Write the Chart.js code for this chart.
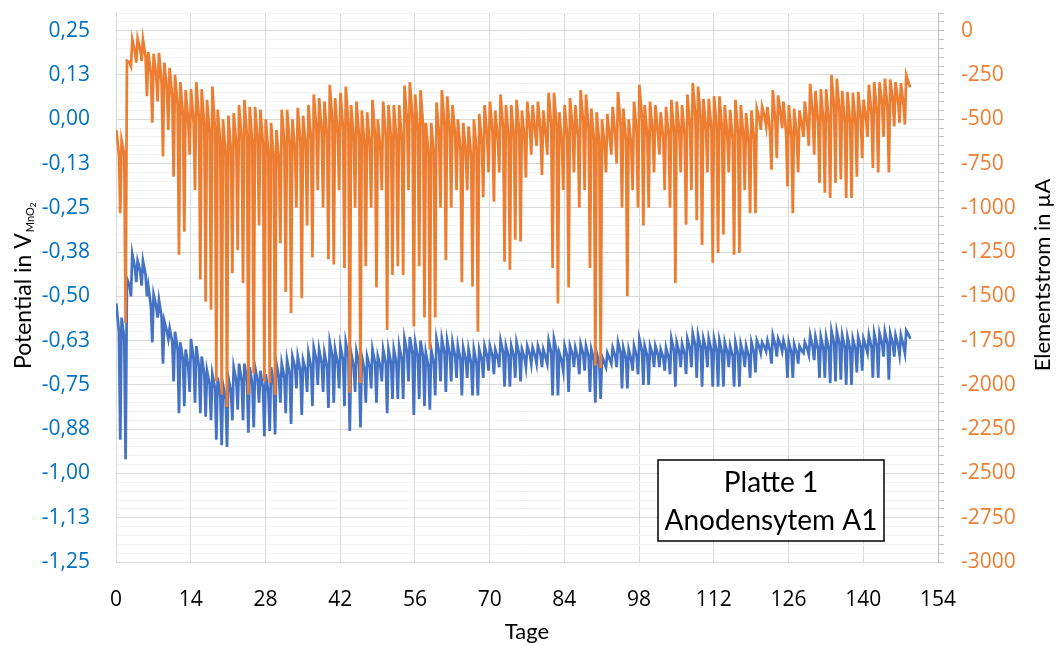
<!DOCTYPE html>
<html><head><meta charset="utf-8">
<script src="https://cdn.jsdelivr.net/npm/chart.js@4/dist/chart.umd.min.js"></script>
<style>html,body{margin:0;padding:0;background:#fff}#w{width:1056px;height:646px}</style>
</head><body><div id="w"><canvas id="c" width="1056" height="646"></canvas></div>
<script>
// Elementstrom (µA) per day 0..148: daily maximum, level before the daily drop, daily minimum
const stromMax = [-560,-620,-170,-50,-45,-50,-120,-130,-125,-180,
-210,-250,-290,-335,-330,-290,-330,-390,-315,-445,
-500,-480,-465,-420,-390,-430,-430,-446,-500,-520,
-560,-446,-446,-500,-435,-480,-420,-360,-380,-400,
-305,-380,-350,-315,-420,-400,-450,-460,-390,-500,
-400,-420,-420,-420,-310,-290,-360,-335,-520,-520,
-405,-335,-370,-420,-500,-520,-540,-500,-470,-420,
-400,-450,-360,-420,-420,-390,-450,-400,-420,-400,
-450,-350,-350,-460,-420,-380,-420,-335,-360,-440,
-460,-500,-470,-430,-345,-440,-500,-400,-305,-420,
-400,-420,-460,-430,-390,-400,-420,-360,-295,-315,
-385,-385,-370,-370,-420,-446,-390,-420,-465,-450,
-440,-430,-430,-335,-365,-400,-420,-440,-450,-400,
-300,-340,-330,-330,-250,-270,-340,-345,-350,-345,
-390,-305,-290,-290,-270,-275,-290,-295,-250];
const stromVor = [-700,-700,-180,-120,-110,-150,-250,-260,-300,-330,
-380,-420,-480,-520,-520,-500,-540,-580,-560,-640,
-700,-680,-650,-620,-600,-640,-620,-650,-700,-720,
-740,-650,-640,-680,-630,-660,-620,-560,-580,-600,
-520,-580,-560,-540,-620,-600,-640,-650,-600,-680,
-600,-620,-620,-620,-520,-500,-560,-540,-700,-700,
-600,-540,-570,-600,-680,-700,-720,-680,-640,-600,
-580,-620,-560,-600,-600,-580,-620,-560,-580,-580,
-600,-540,-540,-640,-600,-560,-600,-520,-560,-620,
-640,-660,-620,-600,-540,-620,-660,-580,-500,-600,
-580,-580,-620,-600,-580,-580,-600,-540,-480,-500,
-560,-560,-550,-560,-600,-620,-580,-600,-640,-620,
-500,-490,-580,-520,-480,-580,-600,-600,-540,-540,
-480,-520,-520,-520,-440,-460,-520,-530,-530,-500,
-500,-480,-470,-420,-450,-400,-410,-420,-300];
const stromMin = [-1030,-1650,-200,-180,-170,-370,-520,-400,-710,-560,
-825,-1265,-1135,-700,-900,-1405,-1530,-1575,-1980,-2055,
-2125,-1370,-1240,-1425,-2055,-1935,-1100,-1980,-1990,-2055,
-1200,-1475,-1595,-1000,-1510,-1100,-1280,-900,-1000,-1290,
-1320,-900,-1340,-2045,-1000,-1990,-1330,-1000,-1450,-900,
-1690,-1380,-1330,-1380,-900,-1670,-1330,-1620,-1800,-1620,
-1000,-1295,-1000,-900,-1420,-900,-1445,-1700,-940,-800,
-965,-800,-1305,-1350,-1180,-1190,-830,-700,-650,-815,
-700,-1340,-1540,-900,-1450,-800,-1000,-900,-1340,-1890,
-1905,-800,-700,-750,-1000,-1500,-900,-1000,-1100,-1000,
-800,-700,-900,-1000,-1425,-800,-1095,-900,-1070,-1210,
-800,-1310,-1255,-1150,-800,-1265,-1255,-900,-1030,-1030,
-560,-540,-785,-720,-550,-880,-1030,-800,-600,-650,
-700,-860,-915,-945,-860,-840,-945,-945,-825,-720,
-600,-775,-800,-600,-800,-540,-520,-530,-320];
// Potential (V vs MnO2) per day 0..148: daily maximum, level before the daily drop, daily minimum
const potMax = [-0.52,-0.56,-0.45,-0.38,-0.40,-0.40,-0.47,-0.495,-0.51,-0.57,
-0.59,-0.60,-0.63,-0.65,-0.62,-0.64,-0.67,-0.71,-0.72,-0.73,
-0.75,-0.73,-0.70,-0.69,-0.69,-0.70,-0.70,-0.71,-0.72,-0.70,
-0.69,-0.69,-0.68,-0.67,-0.67,-0.68,-0.66,-0.645,-0.65,-0.66,
-0.63,-0.65,-0.64,-0.63,-0.66,-0.655,-0.67,-0.67,-0.65,-0.67,
-0.65,-0.65,-0.65,-0.64,-0.62,-0.615,-0.63,-0.625,-0.66,-0.65,
-0.62,-0.62,-0.625,-0.63,-0.64,-0.645,-0.65,-0.65,-0.65,-0.64,
-0.64,-0.65,-0.625,-0.64,-0.64,-0.63,-0.65,-0.64,-0.645,-0.64,
-0.65,-0.625,-0.62,-0.66,-0.64,-0.64,-0.645,-0.635,-0.64,-0.65,
-0.66,-0.67,-0.66,-0.645,-0.63,-0.645,-0.65,-0.64,-0.62,-0.64,
-0.64,-0.64,-0.65,-0.645,-0.62,-0.63,-0.635,-0.62,-0.605,-0.61,
-0.62,-0.62,-0.62,-0.625,-0.63,-0.64,-0.63,-0.635,-0.64,-0.63,
-0.625,-0.63,-0.625,-0.61,-0.62,-0.625,-0.63,-0.635,-0.64,-0.63,
-0.61,-0.615,-0.615,-0.615,-0.598,-0.60,-0.61,-0.615,-0.62,-0.615,
-0.62,-0.61,-0.605,-0.605,-0.60,-0.605,-0.61,-0.61,-0.597];
const potVor = [-0.60,-0.62,-0.47,-0.42,-0.43,-0.44,-0.53,-0.53,-0.56,-0.60,
-0.63,-0.65,-0.68,-0.70,-0.68,-0.70,-0.72,-0.75,-0.76,-0.78,
-0.79,-0.77,-0.74,-0.74,-0.74,-0.75,-0.74,-0.76,-0.77,-0.75,
-0.73,-0.73,-0.72,-0.70,-0.71,-0.71,-0.70,-0.68,-0.69,-0.70,
-0.67,-0.69,-0.68,-0.67,-0.70,-0.69,-0.71,-0.70,-0.69,-0.70,
-0.69,-0.69,-0.69,-0.68,-0.66,-0.66,-0.67,-0.67,-0.70,-0.69,
-0.66,-0.66,-0.665,-0.67,-0.68,-0.68,-0.69,-0.69,-0.68,-0.67,
-0.67,-0.675,-0.66,-0.67,-0.67,-0.665,-0.675,-0.665,-0.67,-0.665,
-0.675,-0.66,-0.655,-0.685,-0.67,-0.665,-0.675,-0.665,-0.67,-0.68,
-0.69,-0.69,-0.68,-0.67,-0.66,-0.675,-0.68,-0.67,-0.655,-0.67,
-0.665,-0.665,-0.675,-0.675,-0.655,-0.66,-0.665,-0.65,-0.64,-0.645,
-0.65,-0.655,-0.655,-0.66,-0.66,-0.67,-0.665,-0.665,-0.67,-0.66,
-0.645,-0.645,-0.655,-0.64,-0.64,-0.655,-0.66,-0.66,-0.655,-0.65,
-0.645,-0.65,-0.65,-0.65,-0.635,-0.635,-0.645,-0.65,-0.65,-0.645,
-0.645,-0.645,-0.64,-0.635,-0.635,-0.635,-0.64,-0.64,-0.61];
const potMin = [-0.905,-0.96,-0.50,-0.46,-0.47,-0.50,-0.63,-0.56,-0.69,-0.62,
-0.74,-0.83,-0.81,-0.77,-0.80,-0.83,-0.84,-0.85,-0.905,-0.92,
-0.925,-0.85,-0.82,-0.85,-0.885,-0.87,-0.80,-0.895,-0.88,-0.89,
-0.80,-0.83,-0.86,-0.76,-0.835,-0.77,-0.81,-0.75,-0.77,-0.815,
-0.80,-0.76,-0.81,-0.88,-0.77,-0.87,-0.80,-0.76,-0.80,-0.74,
-0.83,-0.79,-0.79,-0.79,-0.74,-0.835,-0.79,-0.81,-0.82,-0.78,
-0.74,-0.77,-0.74,-0.73,-0.78,-0.73,-0.78,-0.78,-0.73,-0.71,
-0.72,-0.70,-0.755,-0.755,-0.73,-0.74,-0.70,-0.69,-0.69,-0.70,
-0.69,-0.78,-0.78,-0.71,-0.77,-0.70,-0.72,-0.71,-0.77,-0.80,
-0.79,-0.70,-0.69,-0.70,-0.76,-0.76,-0.71,-0.72,-0.75,-0.75,
-0.70,-0.70,-0.71,-0.72,-0.755,-0.70,-0.72,-0.70,-0.73,-0.755,
-0.70,-0.755,-0.755,-0.755,-0.70,-0.755,-0.755,-0.70,-0.73,-0.715,
-0.66,-0.655,-0.69,-0.67,-0.655,-0.73,-0.73,-0.69,-0.66,-0.665,
-0.68,-0.73,-0.73,-0.745,-0.74,-0.735,-0.75,-0.75,-0.715,-0.71,
-0.66,-0.73,-0.73,-0.67,-0.735,-0.67,-0.665,-0.66,-0.62];

const potLabels = ['-1,25','-1,13','-1,00','-0,88','-0,75','-0,63','-0,50','-0,38','-0,25','-0,13','0,00','0,13','0,25'];
const stromLabels = ['-3000','-2750','-2500','-2250','-2000','-1750','-1500','-1250','-1000','-750','-500','-250','0'];
const titelX = 'Tage';
const titelLinks = 'Potential in V';
const titelLinksIndex = 'MnO';
const titelLinksIndex2 = '2';
const titelRechts = 'Elementstrom in µA';
const boxZeilen = ['Platte 1', 'Anodensytem A1'];

// three samples per day: maximum, level before the drop, minimum
function punkte(hoch, vor, tief) {
  const out = [];
  for (let d = 0; d < hoch.length; d++) {
    out.push({x: d + 0.05, y: hoch[d]});
    out.push({x: d + 0.55, y: vor[d]});
    out.push({x: d + 0.8, y: tief[d]});
  }
  return out;
}
const nMinor = 62;
function gridTicks(minV, step) {
  const t = [];
  for (let k = 0; k <= nMinor; k++) t.push({value: (minV * 1000 + step * 1000 * k) / 1000});
  return t;
}
function noPad(s) { s.paddingTop = 0; s.paddingBottom = 0; s.paddingLeft = 0; s.paddingRight = 0; }

const tickFont = {family: 'Open Sans', size: 21};

const overlay = {
  id: 'overlay',
  afterDraw(chart) {
    const ctx = chart.ctx;
    ctx.save();
    ctx.fillStyle = '#000';
    ctx.font = '22px Lato';
    ctx.textAlign = 'center';
    ctx.textBaseline = 'middle';
    ctx.fillText(titelX, 527, 632);
    ctx.save();
    ctx.translate(31, 369);
    ctx.rotate(-Math.PI / 2);
    ctx.textAlign = 'left';
    ctx.textBaseline = 'alphabetic';
    ctx.font = '23px Lato';
    ctx.fillText(titelLinks, 0, 0);
    const w = ctx.measureText(titelLinks).width;
    ctx.font = '11px Lato';
    ctx.fillText(titelLinksIndex, w + 1, 3);
    const w2 = ctx.measureText(titelLinksIndex).width;
    ctx.font = '8px Lato';
    ctx.fillText(titelLinksIndex2, w + 1 + w2, 5);
    ctx.restore();
    ctx.save();
    ctx.translate(1043, 275);
    ctx.rotate(-Math.PI / 2);
    ctx.textAlign = 'center';
    ctx.textBaseline = 'middle';
    ctx.font = '22px Lato';
    ctx.fillText(titelRechts, 0, 0);
    ctx.restore();
    ctx.fillStyle = '#fff';
    ctx.fillRect(658, 460, 226, 81);
    ctx.strokeStyle = '#000';
    ctx.lineWidth = 1.5;
    ctx.strokeRect(658, 460, 226, 81);
    ctx.fillStyle = '#000';
    ctx.font = '28px Lato';
    ctx.textAlign = 'center';
    ctx.textBaseline = 'middle';
    ctx.fillText(boxZeilen[0], 771, 483);
    ctx.fillText(boxZeilen[1], 771, 521);
    ctx.restore();
  }
};

new Chart(document.getElementById('c'), {
  type: 'line',
  data: {
    datasets: [
      {label: 'Elementstrom', data: punkte(stromMax, stromVor, stromMin), yAxisID: 'y1', borderColor: '#ED7D31', borderWidth: 2.75, pointRadius: 0, tension: 0, order: 0},
      {label: 'Potential', data: punkte(potMax, potVor, potMin), yAxisID: 'y', borderColor: '#4472C4', borderWidth: 2.75, pointRadius: 0, tension: 0, order: 1}
    ]
  },
  options: {
    responsive: false,
    animation: false,
    devicePixelRatio: 1,
    parsing: false,
    layout: {padding: {top: 13, left: 0, right: 0, bottom: 0}},
    plugins: {legend: {display: false}, tooltip: {enabled: false}},
    scales: {
      x: {
        type: 'linear', min: 0, max: 154,
        ticks: {stepSize: 14, color: '#000', font: tickFont, padding: 25, maxRotation: 0, autoSkip: false},
        grid: {color: '#D9D9D9', drawTicks: false},
        border: {color: '#D9D9D9'},
        afterFit: s => { s.height = 84; noPad(s); }
      },
      y: {
        position: 'left', min: -1.25, max: 0.3,
        afterBuildTicks: s => { s.ticks = gridTicks(-1.25, 0.025); },
        ticks: {autoSkip: false, color: '#0070C0', font: tickFont, padding: 26,
          callback: (v, i) => (i % 5 === 0 ? potLabels[i / 5] : '')},
        grid: {drawTicks: false, color: c => (c.index % 5 === 0 ? '#D9D9D9' : '#F2F2F2')},
        border: {color: '#D9D9D9'},
        afterFit: s => { s.width = 116; noPad(s); }
      },
      y1: {
        position: 'right', min: -3000, max: 100,
        afterBuildTicks: s => { s.ticks = gridTicks(-3000, 50); },
        ticks: {autoSkip: false, color: '#ED7D31', font: tickFont, padding: 17,
          callback: (v, i) => (i % 5 === 0 ? stromLabels[i / 5] : '')},
        grid: {drawOnChartArea: false, drawTicks: true, tickLength: 6, color: '#BFBFBF'},
        border: {color: '#BFBFBF'},
        afterFit: s => { s.width = 118; noPad(s); }
      }
    }
  },
  plugins: [overlay]
});
</script>
</body></html>
